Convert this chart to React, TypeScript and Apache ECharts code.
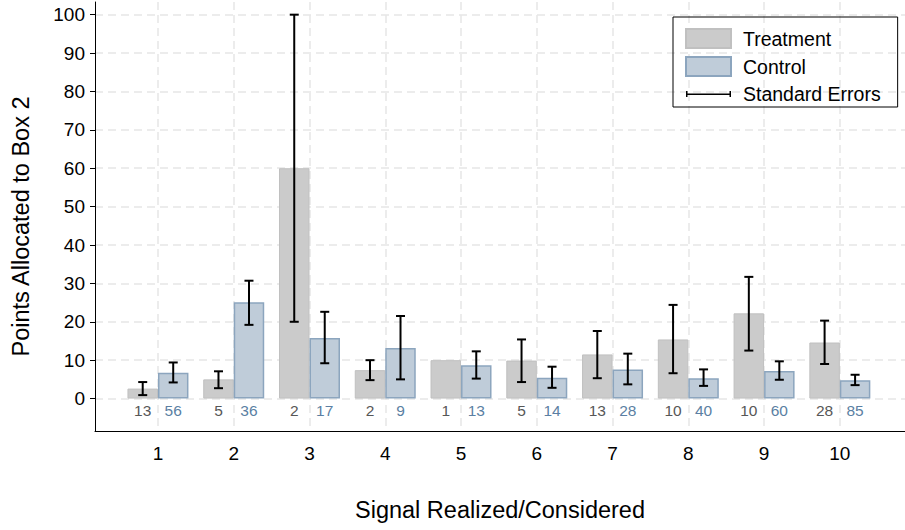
import React, { useEffect, useRef } from "react";
import * as echarts from "echarts";

const categories = [1, 2, 3, 4, 5, 6, 7, 8, 9, 10];
const treatmentMean = [2.6, 5.0, 60, 7.4, 10, 9.9, 11.5, 15.4, 22.2, 14.6];
const treatmentLow = [0.9, 2.7, 20, 4.8, null, 4.3, 5.3, 6.6, 12.5, 9.0];
const treatmentHigh = [4.3, 7.1, 100, 10.0, null, 15.4, 17.6, 24.4, 31.7, 20.3];
const controlMean = [6.7, 25.1, 15.8, 13.2, 8.7, 5.4, 7.6, 5.3, 7.2, 4.8];
const controlLow = [4.2, 19.2, 9.2, 5.0, 5.2, 2.8, 3.7, 3.3, 4.9, 3.5];
const controlHigh = [9.4, 30.7, 22.6, 21.5, 12.3, 8.3, 11.7, 7.6, 9.7, 6.2];
const treatmentN = [13, 5, 2, 2, 1, 5, 13, 10, 10, 28];
const controlN = [56, 36, 17, 9, 13, 14, 28, 40, 60, 85];
const yTicks = [0, 10, 20, 30, 40, 50, 60, 70, 80, 90, 100];

const FONT = "'Liberation Sans', Arial, sans-serif";
const BAR_W = 30.5;

export default function App() {
  const ref = useRef<HTMLDivElement>(null);
  useEffect(() => {
    if (!ref.current) return;
    const chart = echarts.init(ref.current, null, { renderer: "svg" });

    const errData: any[] = [];
    categories.forEach((c, i) => {
      if (treatmentLow[i] != null && treatmentHigh[i] != null) {
        errData.push([c, treatmentLow[i], treatmentHigh[i], -1]);
      }
      errData.push([c, controlLow[i], controlHigh[i], 1]);
    });

    const splitLine = {
      show: true,
      lineStyle: { color: "#e6e6e6", width: 1.5, type: [8, 5] as any },
    };

    chart.setOption({
      animation: false,
      textStyle: { fontFamily: FONT },
      grid: { left: 95, top: 2, right: 0, bottom: 99, containLabel: false },
      legend: {
        orient: "vertical",
        left: 673,
        top: 17,
        padding: [11, 17, 3, 12],
        borderColor: "#000",
        borderWidth: 1,
        itemWidth: 45,
        itemHeight: 19,
        itemGap: 7,
        textStyle: {
          fontSize: 19.5,
          lineHeight: 19,
          color: "#000",
          fontFamily: FONT,
          padding: [0, 0, 0, 7],
        },
        data: [
          { name: "Treatment", icon: "rect" },
          { name: "Control", icon: "rect" },
          {
            name: "Standard Errors",
            icon: "path://M0,9 L45,9 L45,10.5 L0,10.5 Z M0,6.5 L1.5,6.5 L1.5,12.5 L0,12.5 Z M43.5,6.5 L45,6.5 L45,12.5 L43.5,12.5 Z",
          },
        ],
      },
      xAxis: {
        type: "value",
        min: 0.169,
        max: 10.86,
        name: "Signal Realized/Considered",
        nameLocation: "middle",
        nameGap: 67,
        nameTextStyle: { fontSize: 23.5, color: "#000", fontFamily: FONT },
        axisLine: { show: true, onZero: false, lineStyle: { color: "#000", width: 1 } },
        axisTick: { show: false, customValues: categories },
        axisLabel: {
          customValues: categories,
          fontSize: 19,
          color: "#000",
          margin: 13,
          fontFamily: FONT,
        },
        splitLine,
      },
      yAxis: {
        type: "value",
        min: -8.45,
        max: 103.3,
        name: "Points Allocated to Box 2",
        nameLocation: "middle",
        nameGap: 62,
        nameTextStyle: { fontSize: 23.5, color: "#000", fontFamily: FONT, padding: [0, 20, 0, 0] },
        axisLine: { show: true, onZero: false, lineStyle: { color: "#000", width: 1 } },
        axisTick: { show: true, length: 5, customValues: yTicks, lineStyle: { color: "#000" } },
        axisLabel: {
          customValues: yTicks,
          fontSize: 19,
          color: "#000",
          margin: 10,
          fontFamily: FONT,
        },
        splitLine,
      },
      series: [
        {
          name: "Treatment",
          type: "bar",
          barWidth: BAR_W,
          barGap: "0%",
          data: categories.map((c, i) => [c, treatmentMean[i]]),
          itemStyle: { color: "#cbcbcb", borderColor: "#c0c0c0", borderWidth: 1 },
          label: {
            show: true,
            position: "bottom",
            distance: 4,
            fontSize: 15.5,
            color: "#575757",
            fontFamily: FONT,
            formatter: (p: any) => String(treatmentN[p.dataIndex]),
          },
          z: 2,
        },
        {
          name: "Control",
          type: "bar",
          barWidth: BAR_W,
          barGap: "0%",
          data: categories.map((c, i) => [c, controlMean[i]]),
          itemStyle: { color: "#bfccd9", borderColor: "#8ca5be", borderWidth: 1.5 },
          label: {
            show: true,
            position: "bottom",
            distance: 4,
            fontSize: 15.5,
            color: "#5b7fa3",
            fontFamily: FONT,
            formatter: (p: any) => String(controlN[p.dataIndex]),
          },
          z: 2,
        },
        {
          name: "Standard Errors",
          type: "custom",
          itemStyle: { color: "#000" },
          encode: { x: 0, y: [1, 2] },
          data: errData,
          z: 5,
          renderItem: (params: any, api: any) => {
            const x = api.value(0);
            const lo = api.value(1);
            const hi = api.value(2);
            const side = api.value(3);
            const pLo = api.coord([x, lo]);
            const pHi = api.coord([x, hi]);
            const cx = pLo[0] + (side * BAR_W) / 2;
            const cap = 4.5;
            const st = { stroke: "#000", lineWidth: 2 };
            return {
              type: "group",
              children: [
                { type: "line", shape: { x1: cx, y1: pHi[1], x2: cx, y2: pLo[1] }, style: st },
                { type: "line", shape: { x1: cx - cap, y1: pHi[1], x2: cx + cap, y2: pHi[1] }, style: st },
                { type: "line", shape: { x1: cx - cap, y1: pLo[1], x2: cx + cap, y2: pLo[1] }, style: st },
              ],
            };
          },
        },
      ],
    });
    return () => chart.dispose();
  }, []);
  return (
    <div
      ref={ref}
      style={{ position: "absolute", left: 0, top: 0, width: 905, height: 530, background: "#fff" }}
    />
  );
}
